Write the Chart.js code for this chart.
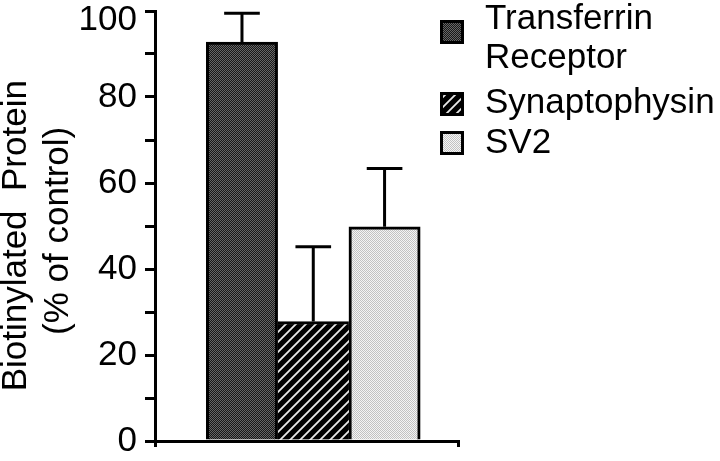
<!DOCTYPE html>
<html><head><meta charset="utf-8">
<script src="https://cdn.jsdelivr.net/npm/chart.js@4.4.1/dist/chart.umd.min.js"></script>
<style>html,body{margin:0;padding:0;background:#fff;} canvas{display:block;}</style>
</head><body>
<canvas id="c" width="720" height="461"></canvas>
<script>
const categories = ['Transferrin Receptor', 'Synaptophysin', 'SV2'];
const legendLines = [['Transferrin', 'Receptor'], ['Synaptophysin'], ['SV2']];
const categoryIndex = [1, 2, 3];
const meanValues = [92.8, 27.8, 49.8];
const errorValues = [6.7, 17.4, 13.6];
const yTickLabels = [0, 20, 40, 60, 80, 100];
const yAxisTitle = ['Biotinylated  Protein  ', '(% of control) '];

const FONT = '"Liberation Sans", Arial, Helvetica, sans-serif';

function makePattern(kind) {
  const c = document.createElement('canvas');
  const x = c.getContext('2d');
  if (kind === 'dark') {
    c.width = 2; c.height = 2;
    x.fillStyle = '#181818'; x.fillRect(0, 0, 2, 2);
    x.fillStyle = '#666666'; x.fillRect(0, 0, 1, 1); x.fillRect(1, 1, 1, 1);
  } else if (kind === 'light') {
    c.width = 2; c.height = 2;
    x.fillStyle = '#f4f4f4'; x.fillRect(0, 0, 2, 2);
    x.fillStyle = '#c2c2c2'; x.fillRect(0, 0, 1, 1); x.fillRect(1, 1, 1, 1);
  } else {
    c.width = 10; c.height = 10;
    x.fillStyle = '#000'; x.fillRect(0, 0, 10, 10);
    x.strokeStyle = '#e8e8e8'; x.lineWidth = 1.8;
    x.beginPath();
    x.moveTo(-1, 11); x.lineTo(11, -1);
    x.moveTo(-1, 1); x.lineTo(1, -1);
    x.moveTo(9, 11); x.lineTo(11, 9);
    x.stroke();
  }
  return x.createPattern(c, 'repeat');
}
const fills = [makePattern('dark'), makePattern('hatch'), makePattern('light')];

const errorBarPlugin = {
  id: 'errorBars',
  afterDatasetsDraw(chart, args, opts) {
    const ctx = chart.ctx, y = chart.scales.y;
    ctx.save();
    ctx.strokeStyle = opts.color; ctx.lineWidth = opts.lineWidth; ctx.lineCap = 'butt';
    chart.data.datasets.forEach((ds, i) => {
      const bar = chart.getDatasetMeta(i).data[0];
      const v = ds.data[0].y;
      const top = y.getPixelForValue(v + ds.errors[0]);
      const half = bar.width * opts.capRatio;
      ctx.beginPath();
      ctx.moveTo(bar.x, bar.y); ctx.lineTo(bar.x, top);
      ctx.moveTo(bar.x - half, top); ctx.lineTo(bar.x + half, top);
      ctx.stroke();
    });
    ctx.restore();
  }
};

const sideLegendPlugin = {
  id: 'sideLegend',
  afterDraw(chart, args, opts) {
    const ctx = chart.ctx;
    ctx.save();
    ctx.font = opts.fontSize + 'px ' + FONT;
    ctx.textBaseline = 'alphabetic';
    ctx.textAlign = 'left';
    chart.data.datasets.forEach((ds, i) => {
      const row = opts.rows[i];
      ctx.fillStyle = ds.backgroundColor;
      ctx.fillRect(opts.boxX, row.boxTop, opts.boxSize, opts.boxSize);
      ctx.strokeStyle = '#000'; ctx.lineWidth = 3;
      ctx.strokeRect(opts.boxX + 1.5, row.boxTop + 1.5, opts.boxSize - 3, opts.boxSize - 3);
      ctx.fillStyle = '#000';
      ds.legendText.forEach((line, k) => {
        ctx.fillText(line, opts.textX, row.baseline + k * opts.lineGap);
      });
    });
    ctx.restore();
  }
};

Chart.defaults.color = '#000';
Chart.defaults.font.family = FONT;

const chart = new Chart(document.getElementById('c'), {
  type: 'bar',
  data: {
    datasets: categories.map((name, i) => ({
      label: name,
      legendText: legendLines[i],
      errors: [errorValues[i]],
      data: [{ x: categoryIndex[i], y: meanValues[i] }],
      backgroundColor: fills[i],
      borderColor: '#000',
      borderWidth: i === 1 ? { top: 3, left: 0, right: 0, bottom: 0 } : 3,
      grouped: false,
      barPercentage: 1,
      categoryPercentage: 1
    }))
  },
  plugins: [errorBarPlugin, sideLegendPlugin],
  options: {
    responsive: false,
    animation: false,
    devicePixelRatio: 1,
    layout: { padding: { top: 11, right: 262, bottom: 14, left: 0 } },
    plugins: {
      legend: { display: false },
      tooltip: { enabled: false },
      errorBars: { color: '#000', lineWidth: 3, capRatio: 0.25 },
      sideLegend: {
        fontSize: 35, boxX: 440, boxSize: 24, textX: 485, lineGap: 39,
        rows: [{ boxTop: 20, baseline: 29 }, { boxTop: 92, baseline: 113 }, { boxTop: 131, baseline: 153 }]
      }
    },
    scales: {
      x: {
        type: 'linear', min: -0.22, max: 4.03, offset: false,
        afterBuildTicks: s => { s.ticks = [{ value: s.min }, { value: s.max }]; },
        ticks: { display: false },
        grid: { display: true, offset: false, drawOnChartArea: false, drawTicks: true, tickLength: 6, lineWidth: 3, color: '#000' },
        border: { display: true, width: 3, color: '#000' }
      },
      y: {
        min: 0, max: 100,
        ticks: {
          stepSize: 10, autoSkip: false, padding: 8, color: '#000',
          font: { family: FONT, size: 35, lineHeight: '18px' },
          callback: v => yTickLabels.includes(v) ? (v === yTickLabels[yTickLabels.length - 1] ? ['', String(v)] : String(v)) : ''
        },
        grid: { drawOnChartArea: false, tickLength: 10, lineWidth: 3, color: '#000' },
        border: { display: true, width: 3, color: '#000' },
        title: {
          display: true, text: yAxisTitle, color: '#000',
          font: { family: FONT, size: 35, lineHeight: '42px' },
          padding: { top: -5, bottom: 0 }
        },
        afterFit: s => { s.width = 155; s.paddingTop = 0; s.paddingBottom = 0; }
      }
    }
  }
});
</script>
</body></html>
